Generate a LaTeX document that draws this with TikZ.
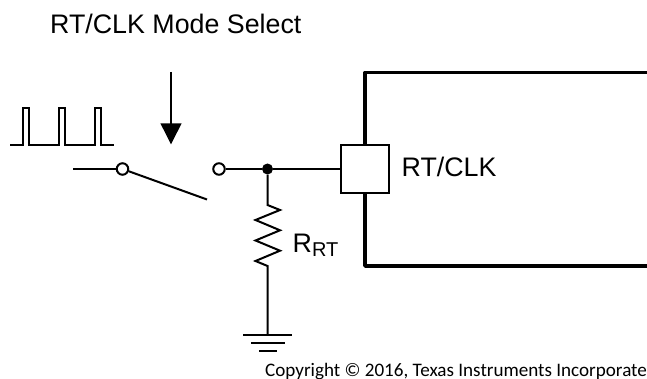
\documentclass[tikz,border=0pt]{standalone}
\usepackage{fontspec}
\setmainfont{Liberation Sans}
\newfontfamily\copyfont{Carlito}
\usetikzlibrary{arrows.meta}
\tikzset{
  wire/.style={line width=2pt,line join=miter},
  thick wire/.style={line width=3.7pt,line join=round},
  term/.style={circle,draw,fill=white,line width=2pt,inner sep=0pt,minimum size=11.5pt},
  dot/.style={circle,fill=black,inner sep=0pt,minimum size=11pt},
  pin/.style={draw,fill=white,line width=2pt,minimum width=48pt,minimum height=48pt,inner sep=0pt},
  lbl/.style={inner sep=0pt,anchor=base west,font=\fontsize{26.8pt}{30pt}\selectfont},
}
\begin{document}
\begin{tikzpicture}[x=1pt,y=-1pt]
\useasboundingbox (0,0) rectangle (647,379);
\clip (0,0) rectangle (647,379);
\node[lbl] (title) at (50,34) {RT/CLK Mode Select};
% pulse train
\draw[wire] (10,144.7) -- (22.5,144.7) -- (22.5,108.3) -- (28.5,108.3) -- (28.5,144.7)
 -- (58.8,144.7) -- (58.8,108.3) -- (64.8,108.3) -- (64.8,144.7)
 -- (95,144.7) -- (95,108.3) -- (101,108.3) -- (101,144.7) -- (113.5,144.7);
% mode arrow
\coordinate (arrS) at (171,72);
\coordinate (arrE) at (171,144.5);
\draw[wire,-{Triangle[length=21pt,width=20.5pt]}] (arrS) -- (arrE);
% IC body
\coordinate (icTR) at (650,72.5);
\coordinate (icTL) at (365,72.5);
\coordinate (icBL) at (365,266);
\coordinate (icBR) at (650,266);
\draw[thick wire] (icTR) -- (icTL) -- (icBL) -- (icBR);
% nodes
\node[pin] (p) at (364.5,169) {};
\node[term] (a) at (122.5,169) {};
\node[term] (b) at (219,169) {};
\node[dot] (j) at (267.5,169) {};
\coordinate (in) at (73,169);
\coordinate (lever) at (207,199.5);
\coordinate (rtop) at (267.5,205);
\coordinate (rbot) at (267.5,266);
\coordinate (gnd) at (267.5,334.5);
\draw[wire] (in) -- (a);
\draw[wire] (a) -- (lever);
\draw[wire] (b) -- (j);
\draw[wire] (j) -- (p);
\draw[wire] (j) -- (rtop) -- (280,210) -- (255.5,220) -- (280,230.3) -- (255.5,240.5) -- (280,250.7) -- (255.5,261) -- (rbot) -- (gnd);
\draw[wire] (243,334.5) -- (292,334.5);
\draw[wire] (251,342.5) -- (285,342.5);
\draw[wire] (259,350.5) -- (277,350.5);
\node[lbl] (rt) at (401.5,176.5) {RT/CLK};
\node[lbl] (rr) at (292.5,252.7) {R\raisebox{-3.3pt}{\fontsize{20pt}{24pt}\selectfont RT}};
\node[inner sep=0pt,anchor=base west,font=\copyfont\fontsize{19.1pt}{23pt}\selectfont] (c) at (265,376.7) {Copyright © 2016, Texas Instruments Incorporated};
\end{tikzpicture}
\end{document}
